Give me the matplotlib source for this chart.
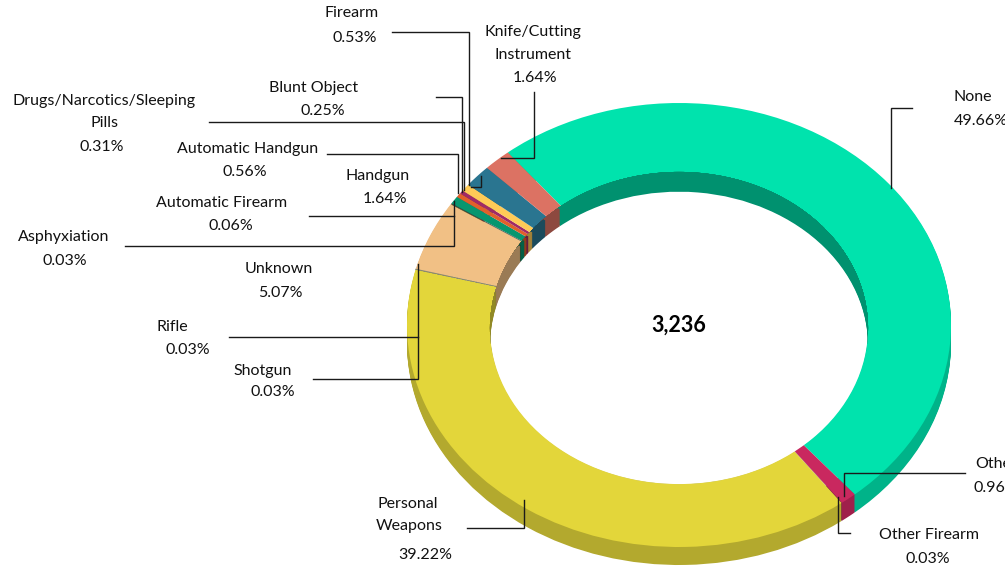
import matplotlib
matplotlib.use('Agg')
import matplotlib.pyplot as plt
from matplotlib.colors import to_rgb
from matplotlib.patches import Ellipse
from matplotlib.path import Path
from matplotlib.transforms import Affine2D

plt.rcParams['font.family'] = ['Lato', 'DejaVu Sans']

# slices, clockwise starting at None
categories = ['None', 'Other', 'Other Firearm', 'Personal Weapons', 'Shotgun', 'Rifle',
              'Unknown', 'Asphyxiation', 'Automatic Firearm', 'Automatic Handgun',
              'Drugs/Narcotics/Sleeping Pills', 'Blunt Object', 'Firearm', 'Handgun',
              'Knife/Cutting Instrument']
shares = [49.66, 0.96, 0.03, 39.22, 0.03, 0.03, 5.07, 0.03, 0.06, 0.56, 0.31, 0.25, 0.53, 1.64, 1.64]
total = '3,236'
colors = ['#00E3AD', '#C9285F', '#7A2A4A', '#E3D63A', '#8A8A70', '#8A8A70', '#F1C085', '#B5842F',
          '#404040', '#06966F', '#E0602B', '#A02A66', '#FFCB57', '#2A7590', '#DC7263']

W, H = 1005, 571
CX, CY, RX, RY = 679, 325, 272, 222
HOLE_X, HOLE_Y = 0.695, 0.703   # hole radii relative to the outer ellipse
HOLE_DROP = 3                   # hole centre sits a little lower than the outer centre
DEPTH = 18
START = 129

# (text, x, y, alignment) in pixels
labels = [
    ('Firearm', 352, 13, 'center'), ('0.53%', 355, 38, 'center'),
    ('Knife/Cutting', 533, 32, 'center'), ('Instrument', 533, 55, 'center'), ('1.64%', 535, 78, 'center'),
    ('None', 973, 97, 'center'), ('49.66%', 954, 121, 'left'),
    ('Blunt Object', 314, 88, 'center'), ('0.25%', 323, 111, 'center'),
    ('Drugs/Narcotics/Sleeping', 104, 101, 'center'), ('Pills', 104, 123, 'center'), ('0.31%', 102, 147, 'center'),
    ('Automatic Handgun', 248, 149, 'center'), ('0.56%', 245, 172, 'center'),
    ('Handgun', 378, 176, 'center'), ('1.64%', 385, 199, 'center'),
    ('Automatic Firearm', 222, 203, 'center'), ('0.06%', 231, 226, 'center'),
    ('Asphyxiation', 64, 237, 'center'), ('0.03%', 65, 261, 'center'),
    ('Unknown', 279, 269, 'center'), ('5.07%', 280, 293, 'center'),
    ('Rifle', 172, 327, 'center'), ('0.03%', 188, 350, 'center'),
    ('Shotgun', 263, 371, 'center'), ('0.03%', 273, 392, 'center'),
    ('Personal', 408, 504, 'center'), ('Weapons', 409, 526, 'center'), ('39.22%', 425, 555, 'center'),
    ('Other', 975, 464, 'left'), ('0.96%', 974, 488, 'left'),
    ('Other Firearm', 929, 535, 'center'), ('0.03%', 928, 559, 'center'),
]

# leader lines as pixel polylines
leaders = [
    [(392, 32), (469, 32), (469, 185)],
    [(436, 97), (462, 97), (462, 192)],
    [(209, 122), (464, 122), (464, 190)],
    [(327, 154), (458, 154), (458, 193)],
    [(309, 216), (454, 216)],
    [(125, 246), (454, 246), (454, 201)],
    [(471, 187), (481, 187), (481, 176)],
    [(501, 158), (534, 158), (534, 92)],
    [(912, 108), (891, 108), (891, 188)],
    [(965, 473), (844, 473), (844, 496)],
    [(838, 497), (838, 533), (850, 533)],
    [(467, 528), (524, 528), (524, 500)],
    [(229, 337), (418, 337)],
    [(313, 379), (418, 379), (418, 264)],
]


def shade(color, factor):
    return tuple(c * factor for c in to_rgb(color))


fig = plt.figure(figsize=(W / 100, H / 100), dpi=100)

# donut axes covers the top face's bounding box, which squashes the pie to an ellipse
ax = fig.add_axes([(CX - RX) / W, 1 - (CY + RY) / H, 2 * RX / W, 2 * RY / H])
outer_colors = [shade(c, 0.79) for c in colors]
inner_colors = [shade(c, 0.64) for c in colors]

# outer wall: thin rings stacked downward
for k in range(DEPTH, 0, -1):
    ax.pie(shares, colors=outer_colors, startangle=START, counterclock=False, radius=1, center=(0, -k / RY),
           wedgeprops=dict(width=0.1, linewidth=0, clip_on=False))

# top face, then the hole cut out of it
top, _ = ax.pie(shares, colors=colors, startangle=START, counterclock=False, radius=1,
                wedgeprops=dict(linewidth=0, clip_on=False))
for i in (4, 5):
    top[i].set_edgecolor('#8A8A70')
    top[i].set_linewidth(0.5)
    top[i].set_linestyle((0, (3, 1)))

hole_c = (0, -HOLE_DROP / RY)
ax.add_patch(Ellipse(hole_c, 2 * HOLE_X, 2 * HOLE_Y, facecolor='white', edgecolor='none', zorder=5))

# inner wall only shows inside the hole, so clip it there
# stop at k=2, k=1 leaves a dark fringe along the bottom of the hole
hole_tf = Affine2D().scale(HOLE_X, HOLE_Y).translate(*hole_c) + ax.transData
for k in range(DEPTH, 1, -1):
    inner, _ = ax.pie(shares, colors=inner_colors, startangle=START, counterclock=False,
                      radius=HOLE_X + 0.06, center=(0, hole_c[1] - k / RY),
                      wedgeprops=dict(width=0.06, linewidth=0, zorder=6))
    for w in inner:
        w.set_clip_on(True)
        w.set_clip_path(Path.unit_circle(), hole_tf)

ax.set_aspect('auto')
ax.set_xlim(-1, 1)
ax.set_ylim(-1, 1)
ax.axis('off')

# overlay in pixel coordinates for text and leaders
over = fig.add_axes([0, 0, 1, 1])
over.set_xlim(0, W)
over.set_ylim(H, 0)
over.axis('off')
over.patch.set_alpha(0)

for pts in leaders:
    over.plot([p[0] for p in pts], [p[1] for p in pts], color='#1a1a1a', lw=1, solid_joinstyle='miter')

for txt, x, y, ha in labels:
    over.text(x, y, txt, fontsize=11.5, color='#111111', ha=ha, va='center')

over.text(679, 325, total, fontsize=15.5, fontweight='bold', color='black', ha='center', va='center')

fig.savefig('out.png', dpi=100)
